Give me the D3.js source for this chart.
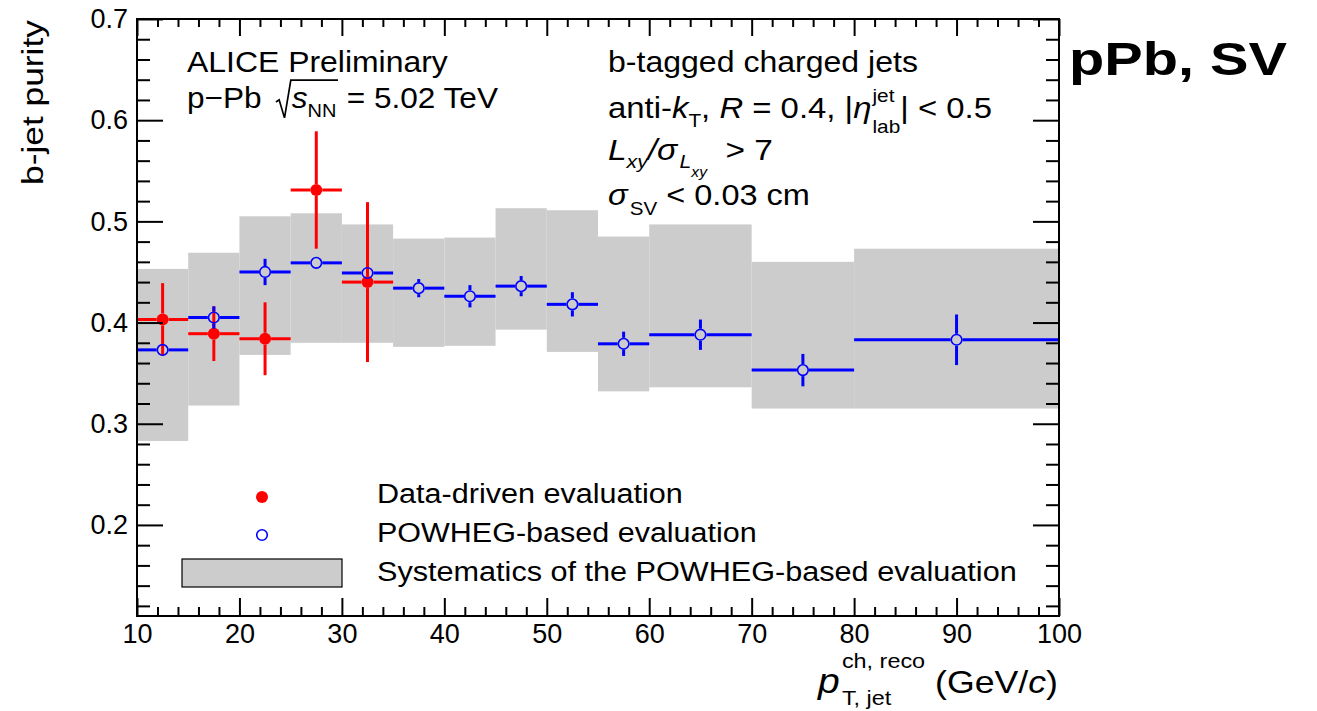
<!DOCTYPE html>
<html>
<head>
<meta charset="utf-8">
<script src="https://cdn.jsdelivr.net/npm/d3@7"></script>
<style>
  html, body { margin: 0; padding: 0; background: #fff; }
  svg text { font-family: "Liberation Sans", Arial, Helvetica, sans-serif; white-space: pre; fill: #000; }
</style>
</head>
<body>
<svg id="chart" width="1317" height="711"></svg>
<script>
// ---- data: b-jet purity vs reconstructed charged-jet pT (p-Pb, SV tagging) ----
const dataDrivenPt     = [12.5, 17.5, 22.5, 27.5, 32.5];
const dataDrivenBinLo  = [10, 15, 20, 25, 30];
const dataDrivenBinHi  = [15, 20, 25, 30, 35];
const dataDrivenPurity = [0.403, 0.389, 0.384, 0.531, 0.440];
const dataDrivenErr    = [0.036, 0.027, 0.036, 0.058, 0.079];

const powhegPt      = [12.5, 17.5, 22.5, 27.5, 32.5, 37.5, 42.5, 47.5, 52.5, 57.5, 65, 75, 90];
const powhegBinLo   = [10, 15, 20, 25, 30, 35, 40, 45, 50, 55, 60, 70, 80];
const powhegBinHi   = [15, 20, 25, 30, 35, 40, 45, 50, 55, 60, 70, 80, 100];
const powhegPurity  = [0.373, 0.405, 0.450, 0.459, 0.449, 0.434, 0.426, 0.436, 0.418, 0.379, 0.388, 0.353, 0.383];
const powhegStatErr = [0.005, 0.011, 0.013, 0.005, 0.006, 0.009, 0.011, 0.010, 0.012, 0.012, 0.015, 0.016, 0.025];
const powhegSysHigh = [0.453, 0.469, 0.505, 0.508, 0.497, 0.483, 0.484, 0.513, 0.511, 0.485, 0.497, 0.460, 0.473];
const powhegSysLow  = [0.283, 0.318, 0.368, 0.380, 0.380, 0.376, 0.377, 0.393, 0.371, 0.332, 0.336, 0.315, 0.315];

const xTickValues = [10, 20, 30, 40, 50, 60, 70, 80, 90, 100];
const yTickValues = [0.2, 0.3, 0.4, 0.5, 0.6, 0.7];
const xDomain = [10, 100];
const yDomain = [0.11, 0.7];

const legendLabels = [
  "Data-driven evaluation",
  "POWHEG-based evaluation",
  "Systematics of the POWHEG-based evaluation"
];

// ---- layout ----
const svg = d3.select("#chart");
const frame = { left: 137, right: 1059, top: 19, bottom: 616 };
const x = d3.scaleLinear().domain(xDomain).range([frame.left, frame.right]);
const y = d3.scaleLinear().domain(yDomain).range([frame.bottom, frame.top]);

const RED = "#ff0000", BLUE = "#0000ff", BAND = "#cccccc";
const markerR = 6;

// ---- systematic band ----
const bandG = svg.append("g");
powhegPt.forEach((_, i) => {
  bandG.append("rect")
    .attr("x", x(powhegBinLo[i]))
    .attr("width", x(powhegBinHi[i]) - x(powhegBinLo[i]))
    .attr("y", y(powhegSysHigh[i]))
    .attr("height", y(powhegSysLow[i]) - y(powhegSysHigh[i]))
    .attr("fill", BAND);
});

// error bars that stop at the marker outline
function errorBars(g, pts, lo, hi, vals, errs, color) {
  pts.forEach((p, i) => {
    const cx = x(p), cy = y(vals[i]);
    const segs = [
      [x(lo[i]), cy, cx - markerR, cy],
      [cx + markerR, cy, x(hi[i]), cy],
      [cx, y(vals[i] + errs[i]), cx, cy - markerR],
      [cx, cy + markerR, cx, y(vals[i] - errs[i])]
    ];
    segs.forEach(s => {
      const len = Math.hypot(s[2] - s[0], s[3] - s[1]);
      const dir = (s[2] - s[0]) + (s[3] - s[1]);
      if (len < 0.5 || dir <= 0) return;
      g.append("line")
        .attr("x1", s[0]).attr("y1", s[1]).attr("x2", s[2]).attr("y2", s[3])
        .attr("stroke", color).attr("stroke-width", 3);
    });
  });
}

// data-driven (red, filled)
const redG = svg.append("g");
errorBars(redG, dataDrivenPt, dataDrivenBinLo, dataDrivenBinHi, dataDrivenPurity, dataDrivenErr, RED);
redG.selectAll("circle").data(dataDrivenPt).join("circle")
  .attr("cx", d => x(d))
  .attr("cy", (d, i) => y(dataDrivenPurity[i]))
  .attr("r", markerR)
  .attr("fill", RED);

// POWHEG-based (blue, open)
const blueG = svg.append("g");
errorBars(blueG, powhegPt, powhegBinLo, powhegBinHi, powhegPurity, powhegStatErr, BLUE);
blueG.selectAll("circle").data(powhegPt).join("circle")
  .attr("cx", d => x(d))
  .attr("cy", (d, i) => y(powhegPurity[i]))
  .attr("r", markerR - 0.7)
  .attr("fill", "none")
  .attr("stroke", BLUE)
  .attr("stroke-width", 1.6);

// ---- axes (ticks pointing inward on all four sides) ----
const xMinor = d3.range(12, 100, 2).filter(v => v % 10 !== 0);
const yMinor = d3.range(12, 70, 2).map(v => v / 100).filter(v => Math.round(v * 100) % 10 !== 0);

function styleAxis(g) {
  g.select(".domain").remove();
  g.selectAll(".tick line").attr("stroke", "#000").attr("stroke-width", 2);
  g.selectAll(".tick text").style("font-size", "27px").attr("fill", "#000");
}

svg.append("g").attr("transform", `translate(0,${frame.bottom})`)
  .call(d3.axisBottom(x).tickValues(xTickValues).tickSizeInner(-18).tickSizeOuter(0).tickPadding(8).tickFormat(d3.format("d")))
  .call(styleAxis).attr("font-family", null).attr("font-size", null);
svg.append("g").attr("transform", `translate(0,${frame.bottom})`)
  .call(d3.axisBottom(x).tickValues(xMinor).tickSizeInner(-9).tickSizeOuter(0).tickFormat(""))
  .call(styleAxis);
svg.append("g").attr("transform", `translate(0,${frame.top})`)
  .call(d3.axisTop(x).tickValues(xTickValues).tickSizeInner(-17).tickSizeOuter(0).tickFormat(""))
  .call(styleAxis);
svg.append("g").attr("transform", `translate(0,${frame.top})`)
  .call(d3.axisTop(x).tickValues(xMinor).tickSizeInner(-8).tickSizeOuter(0).tickFormat(""))
  .call(styleAxis);

svg.append("g").attr("transform", `translate(${frame.left},0)`)
  .call(d3.axisLeft(y).tickValues(yTickValues).tickSizeInner(-26).tickSizeOuter(0).tickPadding(9).tickFormat(d3.format(".1f")))
  .call(styleAxis).attr("font-family", null).attr("font-size", null);
svg.append("g").attr("transform", `translate(${frame.left},0)`)
  .call(d3.axisLeft(y).tickValues(yMinor).tickSizeInner(-13).tickSizeOuter(0).tickFormat(""))
  .call(styleAxis);
svg.append("g").attr("transform", `translate(${frame.right},0)`)
  .call(d3.axisRight(y).tickValues(yTickValues).tickSizeInner(-26).tickSizeOuter(0).tickFormat(""))
  .call(styleAxis);
svg.append("g").attr("transform", `translate(${frame.right},0)`)
  .call(d3.axisRight(y).tickValues(yMinor).tickSizeInner(-13).tickSizeOuter(0).tickFormat(""))
  .call(styleAxis);

svg.append("rect")
  .attr("x", frame.left).attr("y", frame.top)
  .attr("width", frame.right - frame.left).attr("height", frame.bottom - frame.top)
  .attr("fill", "none").attr("stroke", "#000").attr("stroke-width", 2);

// ---- rich text helper: pieces laid out left to right, then stretched to a width ----
// piece: {t, size, italic, bold, dy, gap} | {stack:[piece, piece]} | {rad:"start"|"end"}
function richText(x0, y0, pieces, width, extra) {
  const g = svg.append("g");
  const inner = g.append("g");
  let cx = 0, radStart = null, radSize = 30;
  function put(p, at) {
    const t = inner.append("text")
      .attr("x", at).attr("y", p.dy || 0)
      .style("font-size", p.size + "px")
      .style("font-style", p.italic ? "italic" : "normal")
      .style("font-weight", p.bold ? "bold" : "normal")
      .text(p.t);
    return t.node().getComputedTextLength();
  }
  pieces.forEach(p => {
    if (p.rad === "start") {
      radSize = p.size; radStart = cx; cx += 0.4 * p.size;
    } else if (p.rad === "end") {
      const f = radSize, x1 = radStart;
      inner.append("path")
        .attr("d", `M${x1 - 0.1 * f},${-0.2 * f} L${x1},${-0.27 * f} L${x1 + 0.17 * f},${0.33 * f} L${x1 + 0.37 * f},${-0.93 * f} L${cx + 0.05 * f},${-0.93 * f}`)
        .attr("fill", "none").attr("stroke", "#000").attr("stroke-width", 1.6);
      cx += 0.05 * f;
    } else if (p.stack) {
      let w = 0;
      p.stack.forEach(s => { w = Math.max(w, put(s, cx)); });
      cx += w + (p.gap || 0);
    } else {
      cx += put(p, cx) + (p.gap || 0);
    }
  });
  const sx = width ? width / cx : 1;
  g.attr("transform", `translate(${x0},${y0})${extra || ""} scale(${sx},1)`);
  return g;
}

const F = 30, S = 19;
// experiment label
richText(187, 72, [{ t: "ALICE Preliminary", size: F }], 261);
richText(187, 108, [
  { t: "p\u2212Pb  ", size: F },
  { rad: "start", size: F },
  { t: "s", size: F, italic: true },
  { t: "NN", size: S, dy: 9 },
  { rad: "end" },
  { t: " = 5.02 TeV", size: F }
], 311);

// selection
richText(608, 72, [{ t: "b-tagged charged jets", size: F }], 310);
richText(608, 118, [
  { t: "anti-", size: F },
  { t: "k", size: F, italic: true },
  { t: "T", size: S, dy: 9 },
  { t: ", ", size: F },
  { t: "R", size: F, italic: true },
  { t: " = 0.4, |", size: F },
  { t: "\u03b7", size: F, italic: true, gap: 1 },
  { stack: [{ t: "jet", size: S, dy: -16 }, { t: "lab", size: S, dy: 15 }] },
  { t: "| < 0.5", size: F }
], 384);
richText(608, 160, [
  { t: "L", size: F, italic: true },
  { t: "xy", size: S, italic: true, dy: 8 },
  { t: "/", size: F, italic: true },
  { t: "\u03c3", size: F, italic: true, gap: 2 },
  { t: "L", size: S, italic: true, dy: 8 },
  { t: "xy", size: 14, italic: true, dy: 17 },
  { t: "  > 7", size: F }
], 165);
richText(608, 205, [
  { t: "\u03c3", size: F, italic: true, gap: 2 },
  { t: "SV", size: S, dy: 10 },
  { t: " < 0.03 cm", size: F }
], 202);

// system tag
richText(1069, 75, [{ t: "pPb, SV", size: 47, bold: true }], 218);

// axis titles
richText(818, 693, [
  { t: "p", size: 35, italic: true, gap: 2 },
  { stack: [{ t: "ch, reco", size: 21, dy: -25 }, { t: "T, jet", size: 21, dy: 12 }] },
  { t: " (GeV/", size: 32 },
  { t: "c", size: 32, italic: true },
  { t: ")", size: 32 }
], 240);
richText(43, 185, [{ t: "b-jet purity", size: F }], 165, " rotate(-90)");

// ---- legend ----
const leg = svg.append("g");
leg.append("circle").attr("cx", 262).attr("cy", 497).attr("r", markerR).attr("fill", RED);
leg.append("circle").attr("cx", 262).attr("cy", 535).attr("r", markerR - 0.7)
  .attr("fill", "none").attr("stroke", BLUE).attr("stroke-width", 1.6);
leg.append("rect").attr("x", 182).attr("y", 559).attr("width", 160).attr("height", 28)
  .attr("fill", BAND).attr("stroke", "#000").attr("stroke-width", 1.2);
const legendBaselines = [503, 542, 581];
const legendWidths = [306, 380, 640];
legendLabels.forEach((lab, i) => {
  richText(377, legendBaselines[i], [{ t: lab, size: 28 }], legendWidths[i]);
});
</script>
</body>
</html>
